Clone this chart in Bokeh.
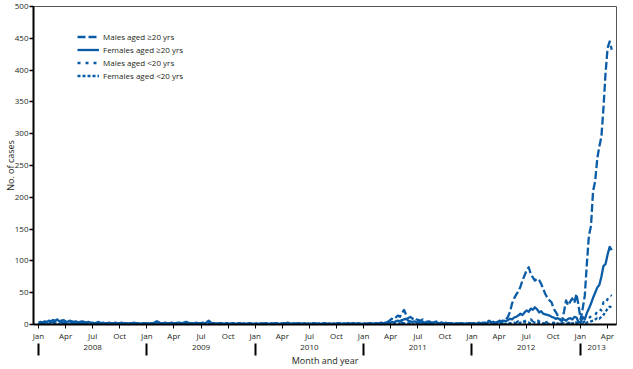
from bokeh.plotting import figure
from bokeh.models import Range1d, FixedTicker, LinearAxis, Legend, LegendItem
from bokeh.embed import file_html
from bokeh.resources import INLINE

# ---------------- data (weekly case counts) ----------------
month_names = ["Jan", "Apr", "Jul", "Oct"]
year_labels = ["2008", "2009", "2010", "2011", "2012", "2013"]
series_labels = ["Males aged \u226520 yrs", "Females aged \u226520 yrs",
                 "Males aged <20 yrs", "Females aged <20 yrs"]

m20_2008 = [2,1,2,3,2,3,4,3,5,4,3,4,3,2,4,3,2,3,2,3,2,2,3,2,3,2,2,1,2,3,2,1,2,1,2,1,1,2,1,1,2,1,1,2,1,1,2,1,2,1,1,2]
m20_2009 = [1,2,1,2,3,4,3,2,2,1,2,1,2,2,1,2,3,2,3,4,2,2,1,2,1,2,1,2,2,4,6,3,2,1,2,1,2,1,1,2,1,1,2,1,1,2,1,1,2,1,2,1]
m20_2010 = [1,2,1,1,2,1,2,1,1,2,1,2,1,1,2,2,1,2,1,1,2,1,2,1,2,1,1,2,1,2,1,1,2,1,2,1,1,2,1,1,2,1,2,1,1,2,1,2,1,1,2,1]
m20_2011 = [1,2,1,2,1,2,2,1,2,3,2,2,4,6,9,8,11,14,12,18,23,15,10,12,9,11,8,7,6,8,5,4,5,3,4,6,3,2,3,2,3,2,2,1,2,1,2,1,2,1,1,2]
m20_2012 = [2,1,3,2,1,2,3,2,4,6,3,4,5,3,6,5,7,8,12,20,33,41,47,52,59,69,77,85,90,80,74,69,72,70,64,56,48,42,38,35,25,20,14,8,5,20,38,30,36,41,34,48,30]
m20_2013 = [8,25,45,95,140,155,210,225,260,280,295,340,395,435,445,432]

f20_2008 = [3,4,3,5,4,6,5,7,6,8,5,6,7,5,4,6,5,4,5,3,4,5,4,3,4,3,3,2,3,4,2,3,2,2,3,2,2,3,2,2,3,2,2,1,2,2,3,2,2,1,2,2]
f20_2009 = [2,1,2,2,3,5,3,2,2,3,2,2,3,2,2,3,2,2,3,4,3,2,2,2,3,2,2,3,2,3,4,2,2,2,1,2,2,1,2,2,1,2,2,1,2,2,1,2,1,2,2,1]
f20_2010 = [1,2,1,2,1,2,2,1,2,1,2,2,1,2,1,2,3,2,1,2,1,2,2,1,2,1,2,1,2,2,1,2,1,2,2,1,2,1,2,1,2,2,1,2,1,2,1,2,2,1,2,1]
f20_2011 = [1,2,1,2,2,1,2,2,1,2,2,3,3,2,4,3,5,6,5,7,8,9,6,5,4,5,3,4,3,4,3,2,3,2,3,4,2,2,3,2,2,1,2,2,1,2,1,2,2,1,2,1]
f20_2012 = [1,2,2,1,3,2,2,3,2,5,3,4,3,4,5,4,6,5,7,9,8,11,12,14,17,15,19,22,20,25,23,27,24,19,21,17,16,15,14,12,11,9,10,8,7,8,6,9,10,8,12,11,4]
f20_2013 = [3,12,8,18,25,33,42,50,58,62,75,92,95,110,122,117]

m19_2008 = [1,0,1,1,0,2,1,1,2,1,0,1,1,2,1,0,1,1,0,1,1,0,1,1,0,1,0,1,1,0,1,0,1,0,0,1,0,1,0,1,0,0,1,0,1,0,0,1,0,1,0,0]
m19_2009 = [0,1,0,1,1,0,1,0,1,1,0,1,0,1,0,1,1,0,1,0,1,0,1,0,1,1,0,1,0,1,1,0,1,0,0,1,0,1,0,1,0,0,1,0,1,0,1,0,0,1,0,1]
m19_2010 = [0,1,0,0,1,0,1,0,0,1,0,1,0,0,1,0,1,0,0,1,0,1,0,0,1,0,0,1,0,1,0,0,1,0,1,0,0,1,0,0,1,0,1,0,0,1,0,1,0,0,1,0]
m19_2011 = [0,1,0,1,0,1,0,1,1,0,1,1,1,2,1,2,3,2,4,3,2,3,2,1,2,1,2,1,1,2,1,0,1,1,0,1,0,1,0,1,0,1,0,0,1,0,1,0,0,1,0,1]
m19_2012 = [0,1,0,1,0,1,1,0,1,2,1,1,2,1,2,2,1,2,3,2,3,4,3,5,4,6,5,7,6,8,5,6,7,5,4,5,3,4,3,2,3,2,2,1,2,3,2,3,2,3,4,3,1]
m19_2013 = [1,3,5,8,10,13,16,15,20,25,22,35,33,40,47,45]

f19_2008 = [0,1,0,0,1,0,1,1,0,1,0,0,1,0,1,0,0,1,0,0,1,0,0,1,0,0,1,0,0,1,0,0,0,1,0,0,1,0,0,0,1,0,0,1,0,0,0,1,0,0,1,0]
f19_2009 = [0,0,1,0,1,0,0,1,0,0,1,0,1,0,0,1,0,0,1,0,1,0,0,0,1,0,1,0,0,1,1,0,0,1,0,0,1,0,0,1,0,0,0,1,0,0,1,0,0,1,0,0]
f19_2010 = [0,1,0,0,0,1,0,0,1,0,0,1,0,0,1,0,0,0,1,0,0,1,0,0,1,0,0,0,1,0,0,1,0,0,1,0,0,0,1,0,0,1,0,0,1,0,0,0,1,0,0,1]
f19_2011 = [0,0,1,0,0,1,0,1,0,1,1,0,1,1,2,1,2,1,2,3,2,1,2,1,1,0,1,1,0,1,0,0,1,0,1,0,0,1,0,0,1,0,0,1,0,0,1,0,0,1,0,0]
f19_2012 = [0,1,0,0,1,0,1,0,1,1,0,1,1,0,1,2,1,1,2,1,2,3,2,2,3,2,4,3,3,2,4,3,2,3,2,2,1,2,1,2,1,1,2,1,1,2,1,2,1,2,3,2,1]
f19_2013 = [0,1,2,3,4,5,6,8,10,9,12,15,20,25,28,27]

males_20 = m20_2008 + m20_2009 + m20_2010 + m20_2011 + m20_2012 + m20_2013
females_20 = f20_2008 + f20_2009 + f20_2010 + f20_2011 + f20_2012 + f20_2013
males_u20 = m19_2008 + m19_2009 + m19_2010 + m19_2011 + m19_2012 + m19_2013
females_u20 = f19_2008 + f19_2009 + f19_2010 + f19_2011 + f19_2012 + f19_2013

# x position: months since Jan 2008 (weekly points)
weeks = list(range(len(males_20)))
months = [w * 12 / 52.1775 for w in weeks]

# ---------------- styling ----------------
BLUE = "#0b5ca6"
FONT = "Open Sans"
TXT = "#231f20"

p = figure(width=625, height=369, output_backend="svg", toolbar_location=None,
           x_range=Range1d(-0.55, 64.0), y_range=Range1d(0, 500),
           min_border_top=6, min_border_right=9, min_border_left=0, min_border_bottom=0)
p.background_fill_color = "white"
p.border_fill_color = "white"
p.outline_line_color = "#555555"
p.outline_line_width = 1
p.xgrid.visible = False
p.ygrid.visible = False

dashes = ["8 3", "solid", "3 5", "3 2"]
all_series = [males_20, females_20, males_u20, females_u20]
renderers = []
for vals, dash in zip(all_series, dashes):
    r = p.line(months, vals, line_color=BLUE, line_width=2.3, line_dash=dash,
               line_join="round")
    renderers.append(r)

# y axis
ya = p.yaxis[0]
ya.ticker = FixedTicker(ticks=list(range(0, 501, 50)))
ya.axis_label = "No. of cases"
ya.axis_label_text_font = FONT
ya.axis_label_text_font_size = "9px"
ya.axis_label_text_font_style = "normal"
ya.axis_label_text_color = TXT
ya.axis_label_standoff = -5
ya.major_label_text_font = FONT
ya.major_label_text_font_size = "8px"
ya.major_label_text_color = TXT
ya.major_label_standoff = 1
ya.major_tick_in = 0
ya.major_tick_out = 4
ya.major_tick_line_width = 1.5
ya.minor_tick_line_color = None
ya.axis_line_width = 2
ya.axis_line_color = "black"

# month axis
xa = p.xaxis[0]
month_ticks = list(range(0, 64, 3))
xa.ticker = FixedTicker(ticks=month_ticks, minor_ticks=[])
xa.major_label_overrides = {t: month_names[(t // 3) % 4] for t in month_ticks}
xa.major_label_text_font = FONT
xa.major_label_text_font_size = "8px"
xa.major_label_text_color = TXT
xa.major_label_standoff = 1
xa.major_tick_in = 0
xa.major_tick_out = 4
xa.major_tick_line_width = 1
xa.axis_line_width = 2
xa.axis_line_color = "black"

# year axis (labels centred in each year, separators at January)
year_pos = [6, 18, 30, 42, 54, 61.8]
year_ax = LinearAxis(
    ticker=FixedTicker(ticks=year_pos, minor_ticks=[0, 12, 24, 36, 48, 60]),
    major_label_overrides={t: lab for t, lab in zip(year_pos, year_labels)},
    axis_line_color=None,
    major_tick_line_color=None,
    major_tick_in=0, major_tick_out=0,
    minor_tick_in=0, minor_tick_out=12,
    minor_tick_line_width=2, minor_tick_line_color="black",
    major_label_standoff=-11,
    major_label_text_font=FONT, major_label_text_font_size="8px",
    major_label_text_color=TXT,
    axis_label="Month and year", axis_label_text_font=FONT,
    axis_label_text_font_size="9px", axis_label_text_font_style="normal",
    axis_label_text_color=TXT, axis_label_standoff=1,
)
p.add_layout(year_ax, "below")

legend = Legend(
    items=[LegendItem(label=lab, renderers=[r]) for lab, r in zip(series_labels, renderers)],
    location=(44, 242), glyph_width=22, glyph_height=13, label_height=13,
    spacing=0, padding=0, margin=0, label_standoff=4,
    border_line_alpha=0, background_fill_alpha=0,
    label_text_font=FONT, label_text_font_size="8px", label_text_color=TXT,
)
p.add_layout(legend)

open("out.html", "w").write(file_html(p, INLINE))
